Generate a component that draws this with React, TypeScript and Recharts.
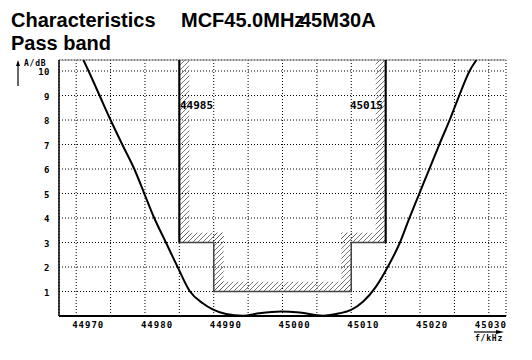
import React from 'react';
import { LineChart, Line, XAxis, YAxis, CartesianGrid, ReferenceArea, ReferenceLine } from 'recharts';

// Response curve: frequency (kHz) and attenuation (dB)
const freqKHz = [
  44971.05, 44971.8, 44973.4, 44975.0, 44976.7, 44978.45, 44979.9, 44981.35, 44983.05, 44984.75,
  44986.55, 44988.4, 44989.85, 44991.8, 44994.2, 44996.6, 44999.8, 45002.5, 45005.85, 45008.3,
  45009.9, 45011.7, 45013.6, 45015.4, 45017.0, 45018.45, 45019.9, 45021.35, 45022.8, 45024.3,
  45025.7, 45027.2, 45028.2,
];
const attenDB = [
  10.45, 10, 9, 8, 7, 6, 5, 4, 3, 2,
  1, 0.52, 0.27, 0.08, 0.01, 0.11, 0.18, 0.14, 0.01, 0.11,
  0.24, 0.58, 1.2, 2.05, 2.95, 4.0, 5.0, 6.0, 7.0, 8.0,
  9.0, 10.0, 10.45,
];

// Tolerance mask
const maskFreq = [44985, 44985, 44990, 44990, 45010, 45010, 45015, 45015];
const maskAtten = [10.45, 3, 3, 1, 1, 3, 3, 10.45];
const stopbandLabels = ['44985', '45015'];

// Axes
const xDomain = [44967.5, 45032.5];
const yDomain = [0, 10.45];
const xTicks = [44970, 44975, 44980, 44985, 44990, 44995, 45000, 45005, 45010, 45015, 45020, 45025, 45030];
const yTicks = [1, 2, 3, 4, 5, 6, 7, 8, 9, 10];

const titleLeft = 'Characteristics';
const titleModelA = 'MCF45.0MHz';
const titleModelB = '45M30A';
const subtitle = 'Pass band';
const yUnit = 'A/dB';
const xUnit = 'f/kHz';

const curveData = freqKHz.map((f, i) => ({ f, a: attenDB[i] }));
const maskData = maskFreq.map((f, i) => ({ f, a: maskAtten[i] }));

const MONO = '"DejaVu Sans Mono", monospace';
const SANS = '"Liberation Sans", Arial, sans-serif';

const XTick = (props: any) => {
  const { x, y, payload } = props;
  const v = payload.value;
  if (v % 10 !== 0) return <g />;
  const last = v === xTicks[xTicks.length - 1];
  return (
    <text x={x + (last ? -14 : -4)} y={y + 12} textAnchor="start" fontFamily={MONO} fontWeight="bold" fontSize={9} letterSpacing={1} fill="#000">
      {String(v)}
    </text>
  );
};

const YTick = (props: any) => {
  const { x, y, payload } = props;
  return (
    <text x={x} y={y + 4} textAnchor="end" fontFamily={MONO} fontWeight="bold" fontSize={9} letterSpacing={0.5} fill="#000">
      {String(payload.value)}
    </text>
  );
};

export default function App() {
  const hatchK = 1.45;
  const hatchD = 0.4;
  const [s1, , p1, , p2, , s2] = maskFreq;
  const topA = maskAtten[0];
  const shoulder = maskAtten[1];
  const floor = maskAtten[3];
  const bands = [
    { x1: s1, x2: s1 + hatchK, y1: shoulder, y2: topA },
    { x1: s1, x2: p1 + hatchK, y1: shoulder, y2: shoulder + hatchD },
    { x1: p1, x2: p1 + hatchK, y1: floor, y2: shoulder + hatchD },
    { x1: p1, x2: p2, y1: floor, y2: floor + hatchD },
    { x1: p2 - hatchK, x2: p2, y1: floor, y2: shoulder + hatchD },
    { x1: p2 - hatchK, x2: s2, y1: shoulder, y2: shoulder + hatchD },
    { x1: s2 - hatchK, x2: s2, y1: shoulder, y2: topA },
  ];

  return (
    <div style={{ position: 'absolute', left: 0, top: 0, width: 532, height: 360, background: '#fff' }}>
      <svg width={0} height={0} style={{ position: 'absolute' }}>
        <defs>
          <pattern id="hatch" patternUnits="userSpaceOnUse" width={5} height={5}>
            <path d="M0,5 L5,0 M-1,1 L1,-1 M4,6 L6,4" stroke="#555" strokeWidth={0.8} />
          </pattern>
        </defs>
      </svg>
      <LineChart width={532} height={360} margin={{ top: 60, right: 26, bottom: 0, left: 0 }}>
        <CartesianGrid stroke="#000" strokeDasharray="1 2" strokeWidth={1} />
        <XAxis
          type="number"
          dataKey="f"
          domain={xDomain}
          ticks={xTicks}
          allowDataOverflow
          height={44}
          tickSize={0}
          tickMargin={0}
          tickLine={false}
          axisLine={{ stroke: '#000', strokeWidth: 2 }}
          tick={<XTick />}
          interval={0}
        />
        <YAxis
          type="number"
          dataKey="a"
          domain={yDomain}
          ticks={yTicks}
          allowDataOverflow
          width={59}
          tickSize={0}
          tickMargin={9}
          tickLine={false}
          axisLine={{ stroke: '#000', strokeWidth: 1.5 }}
          tick={<YTick />}
          interval={0}
        />
        <ReferenceLine y={yDomain[1]} stroke="#888" strokeWidth={1} />
        {bands.map((b, i) => (
          <ReferenceArea key={i} x1={b.x1} x2={b.x2} y1={b.y1} y2={b.y2} fill="url(#hatch)" fillOpacity={1} stroke="none" />
        ))}
        <Line data={maskData} dataKey="a" type="linear" stroke="#444" strokeWidth={1.5} dot={false} isAnimationActive={false} />
        <Line data={maskData.slice(0, 2)} dataKey="a" type="linear" stroke="#000" strokeWidth={2} dot={false} isAnimationActive={false} />
        <Line data={maskData.slice(6, 8)} dataKey="a" type="linear" stroke="#000" strokeWidth={2} dot={false} isAnimationActive={false} />
        <Line data={curveData} dataKey="a" type="monotone" stroke="#000" strokeWidth={2} dot={false} isAnimationActive={false} />
      </LineChart>
      <svg width={532} height={360} style={{ position: 'absolute', left: 0, top: 0, pointerEvents: 'none' }}>
        <text x={11} y={27} fontFamily={SANS} fontWeight="bold" fontSize={20} fill="#000">{titleLeft}</text>
        <text x={181} y={27} fontFamily={SANS} fontWeight="bold" fontSize={20} fill="#000">{titleModelA}</text>
        <text x={300} y={27} fontFamily={SANS} fontWeight="bold" fontSize={20} fill="#000">{titleModelB}</text>
        <text x={11} y={50} fontFamily={SANS} fontWeight="bold" fontSize={20} fill="#000">{subtitle}</text>
        <line x1={18} y1={86} x2={18} y2={62} stroke="#000" strokeWidth={1.2} />
        <polygon points="16,66 18,60 20,66" fill="#000" />
        <text x={24} y={66} fontFamily={MONO} fontWeight="bold" fontSize={8} letterSpacing={0.8} fill="#000">{yUnit}</text>
        <line x1={474} y1={332} x2={500} y2={332} stroke="#000" strokeWidth={1.2} />
        <polygon points="496,330 504,332 496,334" fill="#000" />
        <text x={475} y={341} fontFamily={MONO} fontWeight="bold" fontSize={8} letterSpacing={0.8} fill="#000">{xUnit}</text>
        <text x={180} y={109} fontFamily={MONO} fontWeight="bold" fontSize={11} fill="#000">{stopbandLabels[0]}</text>
        <text x={383} y={109} textAnchor="end" fontFamily={MONO} fontWeight="bold" fontSize={11} fill="#000">{stopbandLabels[1]}</text>
      </svg>
    </div>
  );
}
